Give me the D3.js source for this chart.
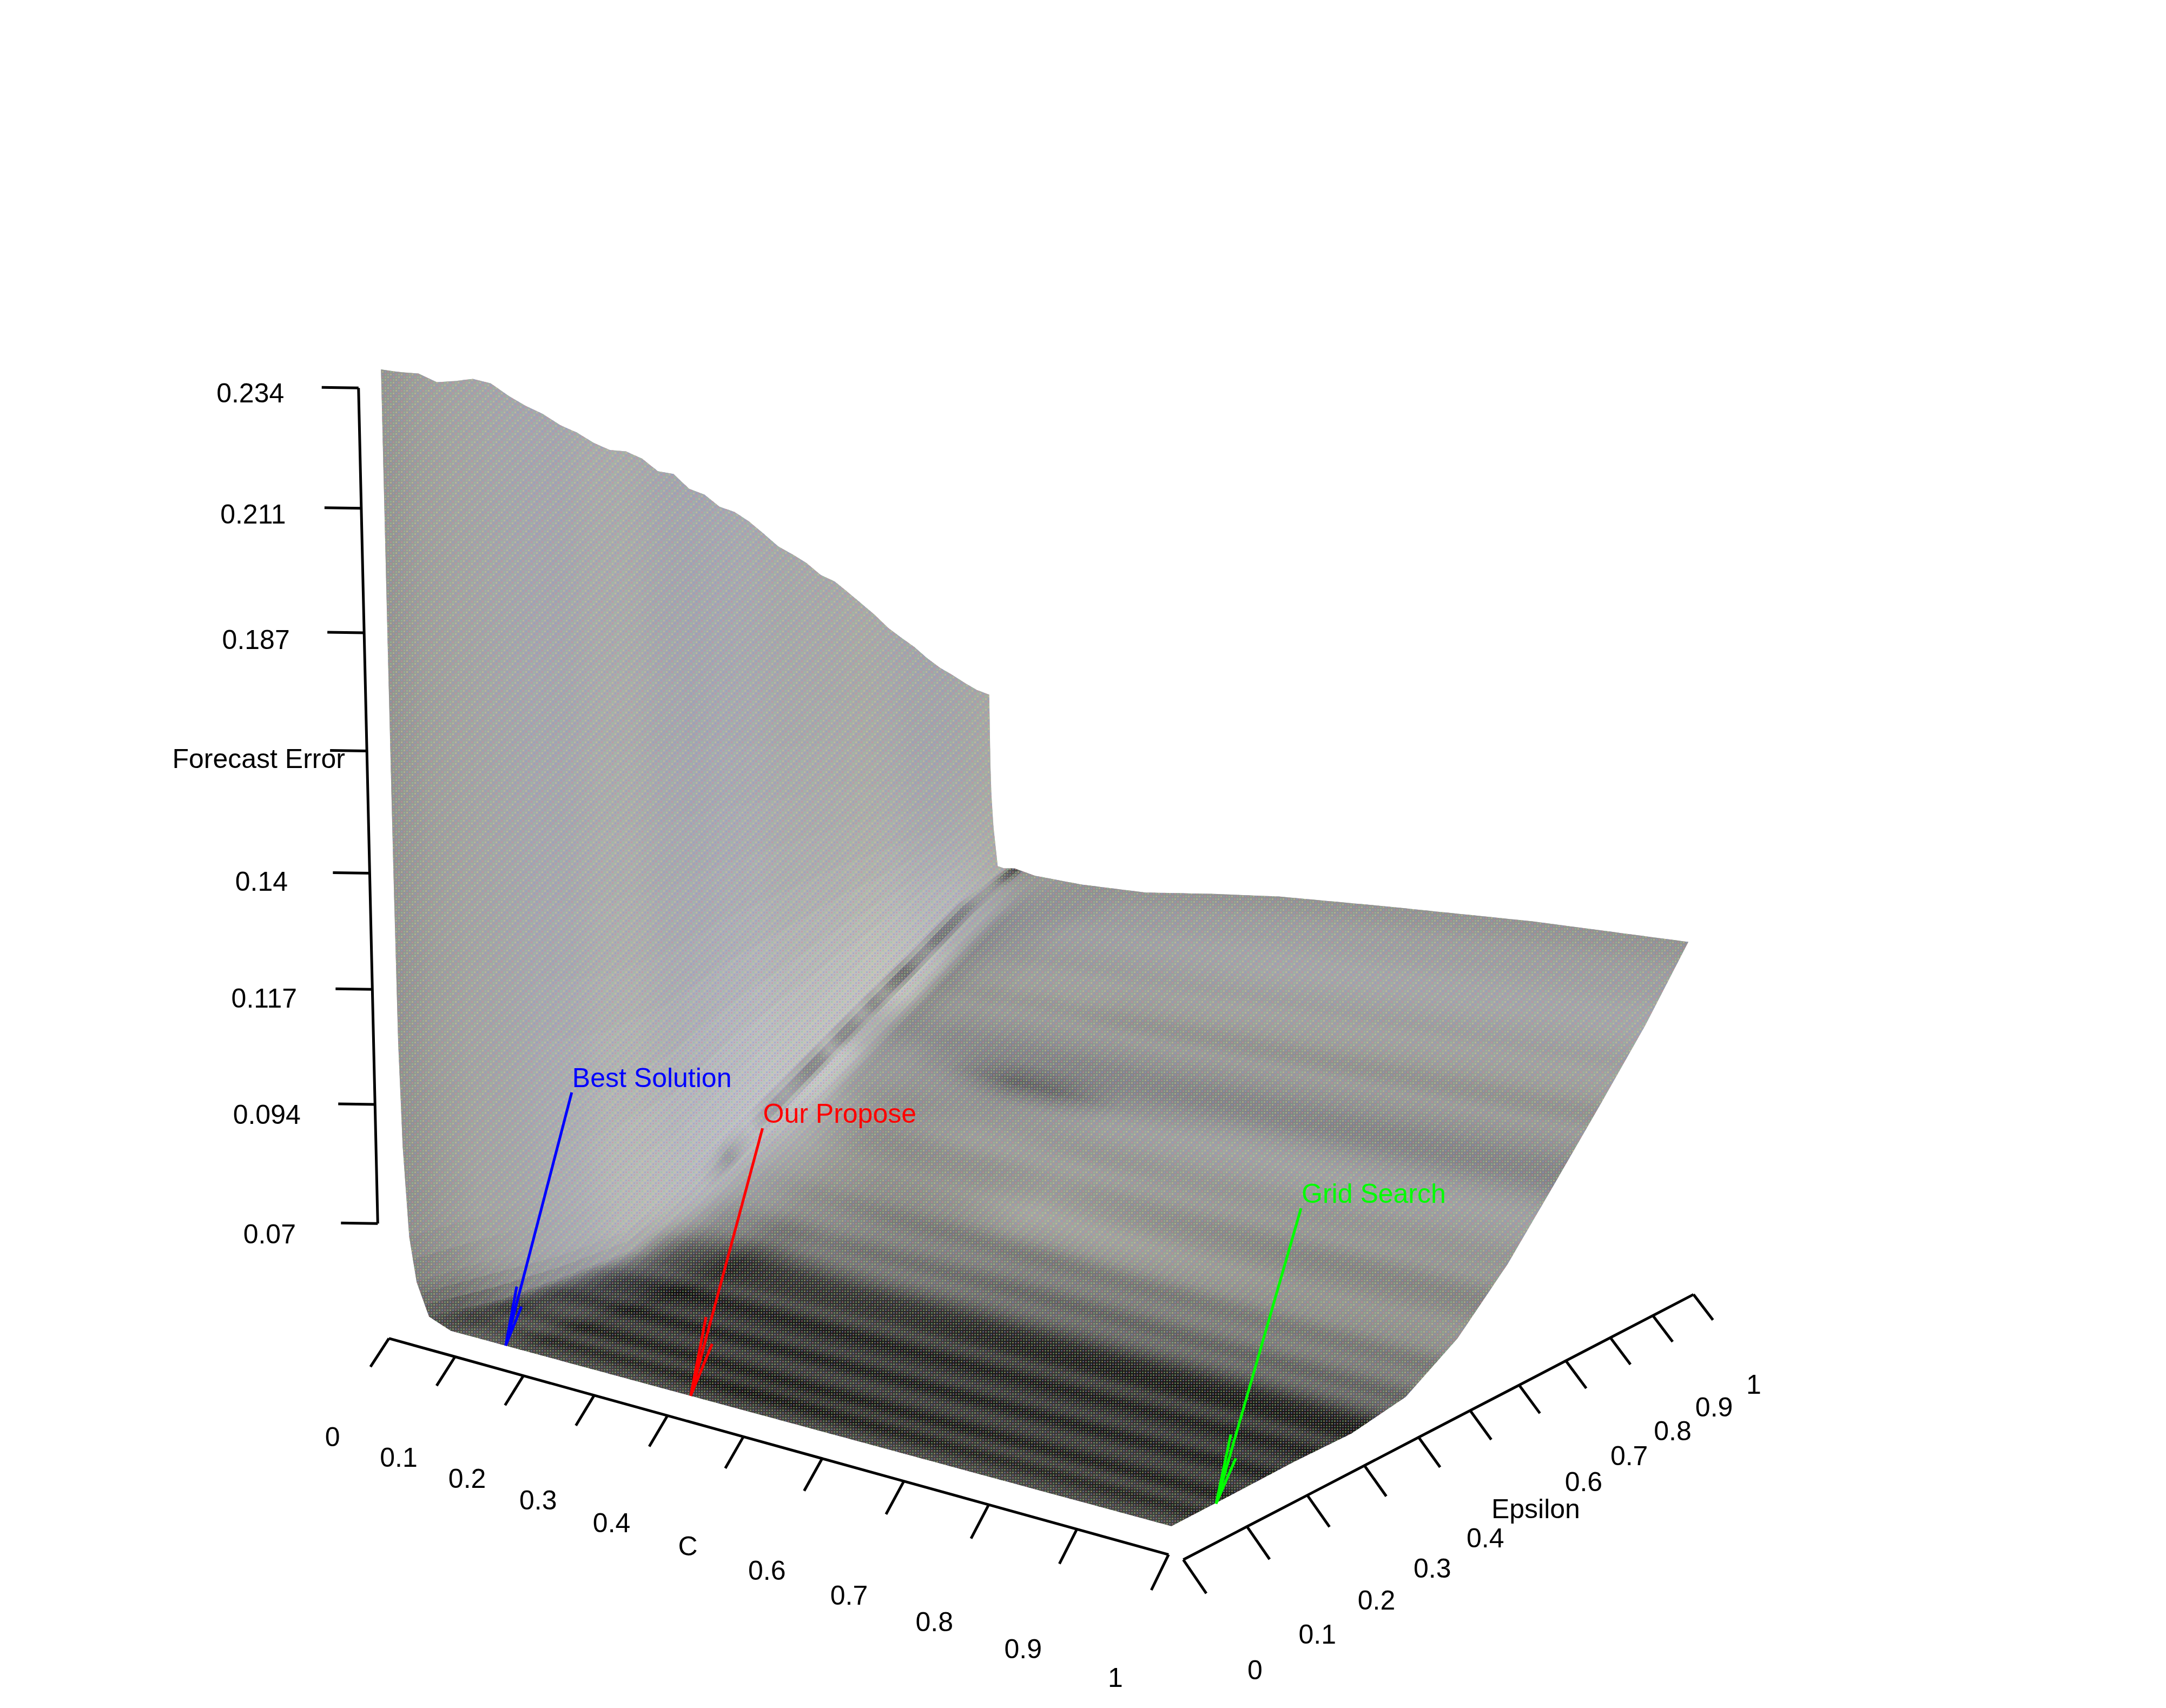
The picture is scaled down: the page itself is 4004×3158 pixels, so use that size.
<!DOCTYPE html>
<html>
<head>
<meta charset="utf-8">
<style>
  html, body { margin: 0; background: #fff; }
  text { font-family: "Liberation Sans", Arial, sans-serif; font-size: 50px; fill: #000; }
</style>
<script src="https://cdn.jsdelivr.net/npm/d3@7"></script>
</head>
<body>
<svg id="chart" width="4004" height="3158"></svg>
<script>
// axis ticks and labels
const cTicks = [0, 0.1, 0.2, 0.3, 0.4, 0.5, 0.6, 0.7, 0.8, 0.9, 1];
const cLabels = ["0", "0.1", "0.2", "0.3", "0.4", "C", "0.6", "0.7", "0.8", "0.9", "1"];
const epsTicks = [0, 0.1, 0.2, 0.3, 0.4, 0.5, 0.6, 0.7, 0.8, 0.9, 1];
const epsLabels = ["0", "0.1", "0.2", "0.3", "0.4", "Epsilon", "0.6", "0.7", "0.8", "0.9", "1"];
const zTicks = [0.07, 0.094, 0.117, 0.14, 0.164, 0.187, 0.211, 0.234];
const zLabels = ["0.07", "0.094", "0.117", "0.14", "Forecast Error", "0.187", "0.211", "0.234"];

// forecast error along the C = 0 edge, epsilon = 0, 0.025 ... 1
const wallTop = [0.238, 0.2375, 0.2372, 0.2355, 0.2357, 0.2361, 0.2352, 0.2327, 0.2306, 0.2289, 0.2266,
  0.225, 0.2228, 0.2212, 0.2208, 0.2192, 0.2164, 0.2157, 0.2124, 0.211, 0.2082,
  0.2069, 0.2046, 0.2017, 0.1987, 0.1967, 0.1945, 0.1916, 0.1899, 0.1871, 0.1842,
  0.1813, 0.178, 0.1754, 0.1729, 0.1699, 0.1673, 0.1652, 0.1629, 0.1608, 0.1593];

// forecast error on the rest of the surface
const errC = [0.001, 0.002, 0.0035, 0.007, 0.014, 0.024, 0.042, 0.075, 0.15, 0.25, 0.35, 0.45, 0.6, 0.8, 1];
const errEps = [0, 0.1, 0.2, 0.3, 0.4, 0.5, 0.6, 0.7, 0.8, 0.9, 1];
const errGrid = [
  [0.18, 0.14, 0.106, 0.085, 0.067, 0.0581, 0.0517, 0.05, 0.05, 0.05, 0.05, 0.05, 0.05, 0.05, 0.05],
  [0.18, 0.14, 0.106, 0.085, 0.067, 0.0581, 0.0505, 0.0504, 0.0503, 0.0503, 0.0503, 0.0503, 0.0502, 0.0502, 0.0502],
  [0.18, 0.1445, 0.112, 0.0872, 0.0675, 0.0568, 0.0512, 0.0508, 0.0507, 0.0507, 0.0506, 0.0506, 0.0506, 0.0506, 0.0505],
  [0.175, 0.1416, 0.1105, 0.0865, 0.0677, 0.0575, 0.0524, 0.0523, 0.052, 0.0518, 0.0516, 0.0514, 0.051, 0.0506, 0.0504],
  [0.1723, 0.1408, 0.1125, 0.0904, 0.0731, 0.0636, 0.0589, 0.0585, 0.058, 0.0572, 0.0565, 0.056, 0.055, 0.0535, 0.0522],
  [0.1697, 0.1422, 0.1175, 0.0982, 0.0831, 0.0748, 0.0707, 0.0695, 0.0675, 0.066, 0.065, 0.064, 0.062, 0.06, 0.0587],
  [0.1656, 0.142, 0.1208, 0.1042, 0.0912, 0.0841, 0.0806, 0.0795, 0.0775, 0.076, 0.075, 0.074, 0.072, 0.07, 0.0688],
  [0.1621, 0.1422, 0.1243, 0.1104, 0.0994, 0.0935, 0.0905, 0.089, 0.088, 0.087, 0.086, 0.085, 0.084, 0.0825, 0.0812],
  [0.1562, 0.1406, 0.1265, 0.1156, 0.107, 0.1023, 0.1, 0.099, 0.098, 0.098, 0.097, 0.0965, 0.096, 0.095, 0.0938],
  [0.1513, 0.1398, 0.1295, 0.1215, 0.1152, 0.1117, 0.11, 0.109, 0.108, 0.108, 0.108, 0.108, 0.1075, 0.107, 0.1067],
  [0.15, 0.142, 0.135, 0.127, 0.1175, 0.1172, 0.1175, 0.1164, 0.1158, 0.116, 0.1178, 0.1193, 0.1203, 0.1213, 0.1213]
];

// grey level of the streaks running along C, epsilon = 0, 0.01 ... 1
const streak = [84, 80, 70, 58, 50, 62, 74, 68, 52, 44, 54, 66, 72, 70, 60, 48, 44, 56, 68, 72, 64,
  58, 50, 44, 50, 62, 70, 72, 62, 50, 44, 43, 48, 54, 70, 86, 100, 110, 112, 106, 104,
  114, 126, 130, 126, 122, 126, 136, 144, 146, 148, 150, 146, 140, 136, 134, 138, 146, 152, 152, 150,
  150, 154, 158, 160, 162, 160, 156, 150, 142, 136, 136, 138, 144, 148, 152, 156, 152, 146, 148, 154,
  158, 160, 162, 160, 158, 160, 162, 164, 166, 166, 166, 164, 162, 160, 160, 158, 156, 152, 150, 148];

// grey level and tint, epsilon = 0, 0.05 ... 1
const stepEps = d3.range(21).map(i => i / 20);
const wallGrey = [148, 158, 163, 166, 168, 168, 170, 170, 168, 168, 170, 170, 168, 168, 168, 168, 168, 166, 166, 166, 166];
const wallTint = [-0.3, -0.2, 0, 0.4, 0.8, 0.8, 0.3, 0.2, 0.8, 1, 1, 0.8, 0.4, 0.3, 0.2, -0.2, 0.3, 0.6, 0.7, 0.2, -0.3];
const floorTint = [-0.3, -0.3, -0.2, -0.1, -0.1, -0.15, -0.25, -0.15, -0.1, -0.2, -0.4, -0.25, -0.1, 0.15, 0.25, 0, -0.2, 0.1, 0.35, 0.3, -0.1];

// local grey changes: lit ridges, creases and spots
const shadeC = [0.001, 0.007, 0.014, 0.03, 0.042, 0.055, 0.075, 0.1, 0.14, 0.2, 0.24, 0.3, 0.36, 0.45, 0.6, 0.8, 1];
const shadeEps = [0, 0.05, 0.1, 0.15, 0.2, 0.25, 0.3, 0.35, 0.4, 0.45, 0.5, 0.55, 0.6, 0.64, 0.67, 0.7, 0.75, 0.8, 0.85, 0.9, 0.95, 1];
const shadeGrid = [
  [0, -3, -5, -30, -50, -55, -40, -20, -5, 0, 0, 0, 0, -5, 0, 0, 0],
  [0, -3, -5, -30, -60, -70, -60, -30, -5, 0, 0, 0, -5, -15, -10, 0, 0],
  [0, 0, 0, -15, -45, -65, -65, -35, -10, 0, 0, 0, 0, 0, 0, 0, 0],
  [0, 0, 0, -5, -25, -50, -60, -45, -15, 0, 0, 0, 0, 0, 0, 0, 0],
  [0, 3, 3, 0, -15, -35, -50, -50, -25, -5, 0, 0, 0, 0, 0, 0, 0],
  [0, 6, 8, 5, 0, -15, -30, -30, -20, -5, 0, 0, 0, 0, 0, 0, 0],
  [0, 8, 12, 10, 5, -5, -20, -25, -5, 15, 20, 20, 20, 15, 5, 0, 0],
  [0, 8, 14, 14, 10, 5, 0, -8, 0, 0, 8, 15, 15, 10, 5, 0, 0],
  [0, 8, 16, 18, 15, 15, 5, 0, 5, 5, 10, 5, 5, 5, 0, 0, 0],
  [0, 10, 18, 20, 20, 18, 12, 5, 5, 5, 0, -5, -5, 0, 0, 0, 0],
  [0, 10, 18, 22, 20, 22, 15, 10, 5, 0, -5, -5, 0, 14, 10, 0, 0],
  [0, 12, 20, 24, 24, 28, 25, 15, 5, 0, 0, 5, 8, 18, 8, 0, 0],
  [0, 12, 20, 24, 26, 32, 30, 0, -5, -5, 0, 5, 5, 0, 0, 0, 0],
  [0, 12, 20, 24, 26, 30, 25, -8, -5, -5, -8, -12, -8, 0, 0, 0, 0],
  [0, 12, 20, 24, 24, 15, 10, -12, -5, -10, -25, -50, -45, -10, 0, 0, 0],
  [0, 12, 20, 24, 22, 12, 8, -18, -8, -3, -5, -5, -5, 0, 0, 0, 0],
  [0, 12, 20, 22, 24, 28, 22, -20, -5, 0, 0, 0, 0, 0, 0, 0, 0],
  [0, 12, 18, 20, 24, 25, 18, -22, -5, 5, 5, 5, 0, 0, 0, 0, 0],
  [0, 10, 16, 18, 18, 12, 8, -22, -8, 0, 0, 0, 0, 0, 0, 0, 0],
  [0, 8, 14, 15, 10, 5, 5, -20, -12, 0, 0, 0, 0, 0, 0, 0, 0],
  [0, 6, 10, 10, 0, 0, -5, -12, -10, -5, 0, 0, 0, 0, 0, 0, 0],
  [0, 3, 3, 3, -20, -20, -10, -5, -5, 0, 0, 0, 0, 0, 0, 0, 0]
];

// depth of the dark crease at the wall foot, epsilon = 0, 0.02 ... 1
const creaseDip = [0, 0, 0, 0, 0, 0, 0, 0, 0, 0, 0, 0, 0, 0, 0, 0, 0, 0, 0, 0, 0, 0,
  -15, -40, -15, 0, -25, -45, -35, -50, -70, -65, -30, -65, -60, -30, -65, -45, -80, -95, -65, -50, -75, -70, -60, -50, -25, -15, -20, -55, -75];

// the three marked solutions: arrow tip and arrow tail
const markNames = ["Best Solution", "Our Propose", "Grid Search"];
const markColors = ["#0000ff", "#ff0000", "#00ff00"];
const markTipC = [0.157, 0.418, 1];
const markTipEps = [0, 0, 0.07];
const markTailC = [0.259, 0.5165, 1];
const markTailEps = [0, 0, 0.2057];
const markTailErr = [0.1031, 0.1037, 0.096];
const markHead = [0.23, 0.29, 0.23];

const width = 4004, height = 3158;
const svg = d3.select("#chart");
const unit = d3.scaleLinear([0, 1568], [0, width]);
const height3d = d3.scaleLinear([0.05, 0.234], [0, 0.184]);

// perspective view of (C, epsilon, height) on to the page
function project(c, e, h) {
  const w = 1 - 0.164 * c + 0.235 * e - 0.185 * h;
  return [
    unit((291 + 417.9 * c + 593.4 * e - 132 * h) / w),
    unit((954 - 30.2 * c + 61.5 * e - 3701 * h) / w)
  ];
}

function lookup(xs, v) {
  const i = Math.min(Math.max(d3.bisectRight(xs, v) - 1, 0), xs.length - 2);
  return [i, Math.min(Math.max((v - xs[i]) / (xs[i + 1] - xs[i]), 0), 1)];
}
function along(xs, ys, v) {
  const [i, t] = lookup(xs, v);
  return ys[i] + (ys[i + 1] - ys[i]) * t;
}
function bilerp(xs, ys, grid, x, y) {
  const [i, s] = lookup(xs, x);
  const [j, t] = lookup(ys, y);
  const a = grid[j][i] + (grid[j][i + 1] - grid[j][i]) * s;
  const b = grid[j + 1][i] + (grid[j + 1][i + 1] - grid[j + 1][i]) * s;
  return a + (b - a) * t;
}

const topEps = wallTop.map((d, i) => i / 40);
const streakEps = streak.map((d, i) => i / 100);
const creaseEps = creaseDip.map((d, i) => i / 50);
function errorAt(c, e) {
  const inner = bilerp(errC, errEps, errGrid, Math.max(c, errC[0]), e);
  if (c >= errC[0]) return inner;
  return along(topEps, wallTop, e) + (inner - along(topEps, wallTop, e)) * c / errC[0];
}

const wallShare = d3.scaleLinear([0.03, 0.18], [1, 0]).clamp(true);
const creaseShare = d3.scaleLinear([0.028, 0.042, 0.058], [0, 1, 0]).clamp(true);
// the streaks fade out towards the wall above the dark front band
const fadeC = d3.scaleLinear([0.1, 0.5], [0.6, 0]).clamp(true);
const fadeEps = d3.scaleLinear([0.36, 0.44], [0, 1]).clamp(true);
// grey is what the picture shows after the dots are laid over it
const undoDots = d3.scaleLinear([27, 237], [0, 250]).clamp(true);
function colorAt(c, e) {
  const k = wallShare(c);
  const s = along(streakEps, streak, e);
  const band = s + (150 - s) * fadeC(c) * fadeEps(e);
  const grey = band * (1 - k) + along(stepEps, wallGrey, e) * k
    + bilerp(shadeC, shadeEps, shadeGrid, Math.max(c, shadeC[0]), e)
    + along(creaseEps, creaseDip, e) * creaseShare(c);
  const tint = along(stepEps, floorTint, e) * (1 - k) + along(stepEps, wallTint, e) * k;
  const g = undoDots(grey);
  return d3.rgb(g - 4 * tint, g - 3 * tint, g + 6 * tint).formatHex();
}

// mesh lines: tight on the steep wall, wider on the floor
const knots = Array.from(new Set([0, ...errC, ...shadeC])).sort(d3.ascending);
const meshC = [];
d3.pairs(knots).forEach(([a, b]) => {
  const n = Math.max(2, Math.ceil((b - a) / 0.008));
  d3.range(n).forEach(i => meshC.push(a + (b - a) * i / n));
});
meshC.push(1);
const meshEps = d3.range(201).map(i => 1 - i / 200);

const cells = [];
d3.pairs(meshEps).forEach(([e1, e0]) => {
  d3.pairs(meshC).forEach(([c0, c1]) => {
    cells.push({
      corners: [[c0, e1], [c1, e1], [c1, e0], [c0, e0]].map(([c, e]) => project(c, e, height3d(errorAt(c, e)))),
      fill: colorAt((c0 + c1) / 2, (e0 + e1) / 2)
    });
  });
});

const defs = svg.append("defs");
const outlinePts = [
  ...meshC.map(c => [c, 0]),
  ...meshEps.slice().reverse().map(e => [1, e]),
  ...meshC.slice().reverse().map(c => [c, 1]),
  ...meshEps.map(e => [0, e])
].map(([c, e]) => project(c, e, height3d(errorAt(c, e))));
const closedLine = d3.line().curve(d3.curveLinearClosed);
defs.append("clipPath").attr("id", "surfaceClip").append("path").attr("d", closedLine(outlinePts));

// halftone dots seen over the whole surface
const dotColors = ["#d08a9a", "#8ad09a", "#d0d08a", "#8a9ad0"];
const dots = defs.append("pattern").attr("id", "dots").attr("patternUnits", "userSpaceOnUse")
  .attr("width", 20).attr("height", 20);
dots.selectAll("rect").data(d3.range(16)).join("rect")
  .attr("x", i => (i % 4) * 5 + 1)
  .attr("y", i => Math.floor(i / 4) * 5 + 1)
  .attr("width", 3).attr("height", 3)
  .attr("fill", i => dotColors[(i + Math.floor(i / 4)) % 4]);

const surface = svg.append("g").attr("clip-path", "url(#surfaceClip)");
surface.append("g").selectAll("path").data(cells).join("path")
  .attr("d", d => closedLine(d.corners))
  .attr("fill", d => d.fill)
  .attr("stroke", d => d.fill)
  .attr("stroke-width", 1);
surface.append("rect").attr("width", width).attr("height", height)
  .attr("fill", "url(#dots)").attr("opacity", 0.45);

// axes, ticks and labels
const axisStyle = sel => sel.attr("fill", "none").attr("stroke", "#000").attr("stroke-width", 5).attr("stroke-linejoin", "miter");
const axes = svg.append("g");
const line = d3.line();

const cAxis = d3.scaleLinear([0, 1], [-0.0166, 1]);
const cPoint = (v, de, dh) => project(cAxis(v), -0.004 + de, -0.0047 + dh);
axes.append("path").attr("d", line(cTicks.map(v => cPoint(v, 0, 0)))).call(axisStyle);
axes.selectAll(".c-tick").data(cTicks).join("path").attr("class", "c-tick")
  .attr("d", v => line([cPoint(v, 0, 0), cPoint(v, -0.026, -0.0046)])).call(axisStyle);

const epsAxis = d3.scaleLinear([0, 1], [-0.0026, 1.0062]);
const epsPoint = (v, dc, dh) => project(1.015 + dc, epsAxis(v), -0.005 + dh);
axes.append("path").attr("d", line(epsTicks.map(v => epsPoint(v, 0, 0)))).call(axisStyle);
axes.selectAll(".eps-tick").data(epsTicks).join("path").attr("class", "eps-tick")
  .attr("d", v => line([epsPoint(v, 0, 0), epsPoint(v, 0.025, -0.0047)])).call(axisStyle);

const zPoint = v => project(0, -0.03, height3d(v) + 0.0005);
const zLine = zTicks.map(zPoint);
axes.append("path").attr("d", line(zLine)).call(axisStyle);
axes.selectAll(".z-tick").data(zLine).join("path").attr("class", "z-tick")
  .attr("d", p => line([p, [p[0] - 68, p[1] - 1]])).call(axisStyle);

function addLabels(values, labels, place) {
  svg.append("g").attr("text-anchor", "middle").selectAll("text").data(values).join("text")
    .attr("x", v => place(v)[0])
    .attr("y", v => place(v)[1] + 17)
    .text((v, i) => labels[i]);
}
addLabels(cTicks, cLabels, v => cPoint(v, -0.079, -0.0163));
addLabels(epsTicks, epsLabels, v => epsPoint(v, 0.0773, -0.0154 - 0.0015 * v));
const zLabelDrop = d3.scaleLinear([0.07, 0.234], [20, 10]);
addLabels(zTicks, zLabels, v => [zPoint(v)[0] - 200, zPoint(v)[1] + zLabelDrop(v)]);

// arrows to the marked solutions
const marks = svg.append("g");
markNames.forEach((name, i) => {
  const tip = project(markTipC[i], markTipEps[i], 0);
  const tail = project(markTailC[i], markTailEps[i], height3d(markTailErr[i]));
  const dx = tail[0] - tip[0], dy = tail[1] - tip[1];
  const len = Math.hypot(dx, dy), ang = Math.atan2(dy, dx);
  const barb = (share, turn) => [
    tip[0] + len * share * Math.cos(ang + turn),
    tip[1] + len * share * Math.sin(ang + turn)
  ];
  marks.append("path").attr("fill", "none").attr("stroke", markColors[i]).attr("stroke-width", 5)
    .attr("d", line([tail, tip]) + line([barb(markHead[i], -0.07), tip, barb(markHead[i] * 0.7, 0.13)]));
  marks.append("text").attr("x", tail[0] + 1).attr("y", tail[1] - 10)
    .style("fill", markColors[i]).text(name);
});
</script>
</body>
</html>
